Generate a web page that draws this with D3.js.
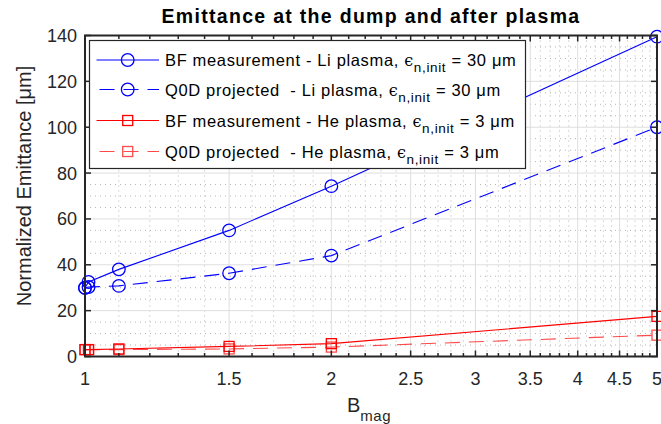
<!DOCTYPE html>
<html>
<head>
<meta charset="utf-8">
<script src="https://cdn.jsdelivr.net/npm/d3@7"></script>
<style>
  body { margin: 0; background: #fff; }
  svg { display: block; font-family: "Liberation Sans", Arial, sans-serif; }
</style>
</head>
<body>
<div id="chart"></div>
<script>
// data
const bmag = [1, 1.01, 1.1, 1.5, 2, 5];
const liBF = [30, 32.5, 38, 55, 74.3, 139.5];
const liQ0D = [29.9, 30.3, 30.8, 36.3, 44, 100];
const heBF = [3, 3, 3.3, 4.4, 5.6, 17.5];
const heQ0D = [3, 3, 3, 3.3, 4.1, 9.3];

const xTicks = [1, 1.5, 2, 2.5, 3, 3.5, 4, 4.5, 5];
const yTicks = [0, 20, 40, 60, 80, 100, 120, 140];

const seriesList = [
    { name: "BF measurement - Li plasma, ", eps: "30", values: liBF, color: "#0000ff", dash: null, marker: "circle", opacity: 1 },
    { name: "Q0D projected  - Li plasma, ", eps: "30", values: liQ0D, color: "#0000ff", dash: "15,9", marker: "circle", opacity: 1 },
    { name: "BF measurement - He plasma, ", eps: "3", values: heBF, color: "#ff0000", dash: null, marker: "square", opacity: 1 },
    { name: "Q0D projected  - He plasma, ", eps: "3", values: heQ0D, color: "#ff0000", dash: "15,9", marker: "square", opacity: 0.7 }
];

const width = 661, height = 424;
const pLeft = 85, pRight = 657, pTop = 35.5, pBottom = 356.5;
const axisColor = "#262626";

let svg = d3.select("#chart").append("svg")
    .attr("width", width)
    .attr("height", height);

let x = d3.scaleLog().domain([1, 5]).range([pLeft, pRight]);
let y = d3.scaleLinear().domain([0, 140]).range([pBottom, pTop]);

// minor values
let xMinor = d3.range(11, 50).map(d => d / 10).filter(d => !xTicks.some(t => Math.abs(t - d) < 1e-9));
let yMinor = d3.range(0, 141, 5).filter(d => d % 20 != 0);

// grid
let grid = svg.append("g");
grid.selectAll(".xminor").data(xMinor).enter().append("line")
    .attr("x1", d => x(d)).attr("x2", d => x(d))
    .attr("y1", pTop).attr("y2", pBottom)
    .attr("stroke", "#b5b5b5").attr("stroke-dasharray", "1,4");
grid.selectAll(".yminor").data(yMinor).enter().append("line")
    .attr("y1", d => y(d)).attr("y2", d => y(d))
    .attr("x1", pLeft).attr("x2", pRight)
    .attr("stroke", "#b5b5b5").attr("stroke-dasharray", "1,4");
grid.selectAll(".xmajor").data(xTicks).enter().append("line")
    .attr("x1", d => x(d)).attr("x2", d => x(d))
    .attr("y1", pTop).attr("y2", pBottom)
    .attr("stroke", "#dedede");
grid.selectAll(".ymajor").data(yTicks).enter().append("line")
    .attr("y1", d => y(d)).attr("y2", d => y(d))
    .attr("x1", pLeft).attr("x2", pRight)
    .attr("stroke", "#dedede");

function drawMarker(g, type, cx, cy, color) {
    if (type == "circle") {
        g.append("circle").attr("cx", cx).attr("cy", cy).attr("r", 6.3)
            .attr("fill", "none").attr("stroke", color).attr("stroke-width", 1.3);
    } else {
        g.append("rect").attr("x", cx - 5).attr("y", cy - 5).attr("width", 10).attr("height", 10)
            .attr("fill", "none").attr("stroke", color).attr("stroke-width", 1.3);
    }
}

// data lines
let line = d3.line().x(d => x(d[0])).y(d => y(d[1]));
let plot = svg.append("g");
seriesList.forEach(s => {
    let pts = bmag.map((b, i) => [b, s.values[i]]);
    let g = plot.append("g").attr("opacity", s.opacity);
    g.append("path").datum(pts)
        .attr("d", line)
        .attr("fill", "none")
        .attr("stroke", s.color)
        .attr("stroke-width", 1.1)
        .attr("stroke-dasharray", s.dash);
    pts.forEach(p => drawMarker(g, s.marker, x(p[0]), y(p[1]), s.color));
});

// axes with inward ticks on all sides
let axes = svg.append("g").attr("stroke", axisColor);
xTicks.forEach(t => {
    axes.append("line").attr("x1", x(t)).attr("x2", x(t)).attr("y1", pBottom).attr("y2", pBottom - 6).attr("stroke-width", 1.5);
    axes.append("line").attr("x1", x(t)).attr("x2", x(t)).attr("y1", pTop).attr("y2", pTop + 6).attr("stroke-width", 1.5);
});
xMinor.forEach(t => {
    axes.append("line").attr("x1", x(t)).attr("x2", x(t)).attr("y1", pBottom).attr("y2", pBottom - 3.5).attr("stroke-width", 1.5);
    axes.append("line").attr("x1", x(t)).attr("x2", x(t)).attr("y1", pTop).attr("y2", pTop + 3.5).attr("stroke-width", 1.5);
});
yTicks.forEach(t => {
    axes.append("line").attr("x1", pLeft).attr("x2", pLeft + 6).attr("y1", y(t)).attr("y2", y(t)).attr("stroke-width", 1.5);
    axes.append("line").attr("x1", pRight).attr("x2", pRight - 6).attr("y1", y(t)).attr("y2", y(t)).attr("stroke-width", 1.5);
});
axes.append("rect")
    .attr("x", pLeft).attr("y", pTop)
    .attr("width", pRight - pLeft).attr("height", pBottom - pTop)
    .attr("fill", "none").attr("stroke-width", 2);

// tick labels
svg.selectAll(".xlab").data(xTicks).enter().append("text")
    .attr("x", d => x(d)).attr("y", 385)
    .attr("text-anchor", "middle")
    .attr("font-size", 18).attr("fill", axisColor)
    .text(d => d);
svg.selectAll(".ylab").data(yTicks).enter().append("text")
    .attr("x", 77).attr("y", d => y(d) + 6.5)
    .attr("text-anchor", "end")
    .attr("font-size", 18).attr("fill", axisColor)
    .text(d => d);

// axis labels and title
let xl = svg.append("text").attr("x", 347).attr("y", 412).attr("font-size", 20).attr("fill", axisColor);
xl.append("tspan").text("B");
xl.append("tspan").attr("dy", 9).attr("font-size", 15).attr("letter-spacing", 0.5).text("mag");

svg.append("text")
    .attr("transform", "translate(31,186) rotate(-90)")
    .attr("text-anchor", "middle")
    .attr("font-size", 20).attr("fill", axisColor)
    .text("Normalized Emittance [\u03bcm]");

svg.append("text")
    .attr("x", (pLeft + pRight) / 2).attr("y", 23)
    .attr("text-anchor", "middle")
    .attr("font-size", 19.5).attr("font-weight", "bold").attr("fill", "#000")
    .attr("letter-spacing", 1.3)
    .text("Emittance at the dump and after plasma");

// legend
let legend = svg.append("g");
legend.append("rect")
    .attr("x", 89.5).attr("y", 40.5).attr("width", 436).attr("height", 128)
    .attr("fill", "#fff").attr("stroke", axisColor).attr("stroke-width", 1.2);
let rowY = [60, 89.5, 120.5, 151.5];
seriesList.forEach((s, i) => {
    let g = legend.append("g").attr("opacity", s.opacity);
    g.append("line").attr("x1", 96.5).attr("x2", 159)
        .attr("y1", rowY[i]).attr("y2", rowY[i])
        .attr("stroke", s.color).attr("stroke-width", 1.1)
        .attr("stroke-dasharray", s.dash ? "15,9" : null)
        .attr("stroke-dashoffset", s.dash ? -3 : null);
    drawMarker(g, s.marker, 127.7, rowY[i], s.color);
    let t = legend.append("text").attr("x", 165).attr("y", rowY[i] + 6)
        .attr("font-size", 16.5).attr("fill", "#000")
        .attr("letter-spacing", 0.65)
        .attr("xml:space", "preserve");
    t.append("tspan").text(s.name);
    t.append("tspan").attr("font-family", "DejaVu Serif, serif").attr("font-size", 16).text("\u03f5");
    t.append("tspan").attr("dy", 6).attr("font-size", 13.5).text("n,init");
    t.append("tspan").attr("dy", -6).text(" = " + s.eps + " \u03bcm");
});
</script>
</body>
</html>
